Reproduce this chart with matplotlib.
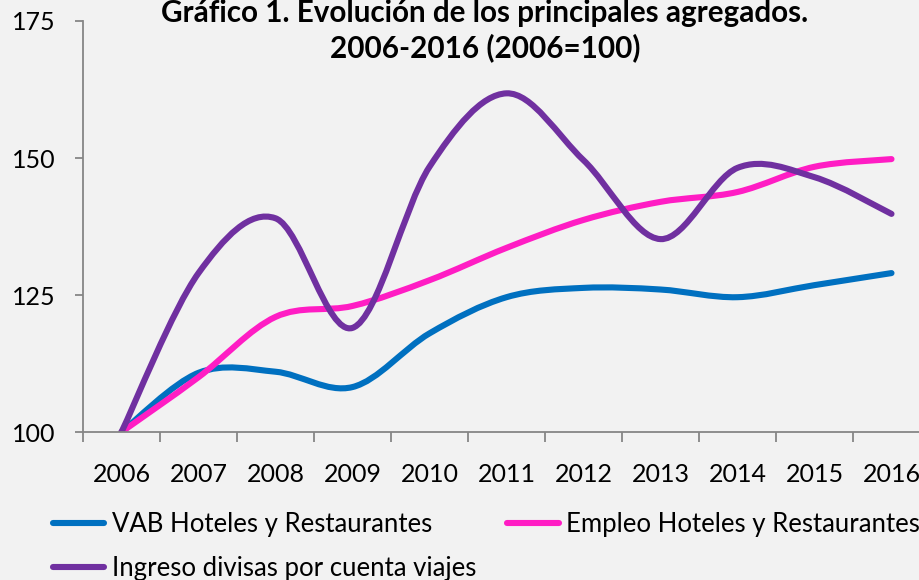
import numpy as np
import matplotlib.pyplot as plt
from matplotlib.path import Path
from matplotlib.patches import PathPatch
from matplotlib.lines import Line2D

years = ['2006', '2007', '2008', '2009', '2010', '2011', '2012', '2013', '2014', '2015', '2016']
vab = [100, 110.8, 111, 108.2, 118, 124.6, 126.3, 126, 124.6, 126.8, 129]
empleo = [100, 110, 121, 123, 127.7, 133.6, 138.7, 142, 143.8, 148.4, 149.8]
divisas = [100, 129, 139, 119, 148.4, 161.8, 149.6, 135.2, 148.2, 146.5, 139.8]

names = ['VAB Hoteles y Restaurantes', 'Empleo Hoteles y Restaurantes',
         'Ingreso divisas por cuenta viajes']
colors = ['#0070C0', '#FF1DC4', '#7030A0']

plt.rcParams['font.family'] = ['Lato', 'DejaVu Sans']


def smooth_path(xs, ys):
    # bezier curve through every point, like excel's "smoothed line"
    pts = np.column_stack([xs, ys]).astype(float)
    n = len(pts)
    verts = [pts[0]]
    codes = [Path.MOVETO]
    for i in range(n - 1):
        p0 = pts[max(i - 1, 0)]
        p1 = pts[i]
        p2 = pts[i + 1]
        p3 = pts[min(i + 2, n - 1)]
        c1 = p1 + (p2 - p0) / 6.0
        c2 = p2 - (p3 - p1) / 6.0
        verts += [c1, c2, p2]
        codes += [Path.CURVE4] * 3
    return Path(verts, codes)


fig = plt.figure(figsize=(9.19, 5.80), dpi=100)
fig.patch.set_facecolor('#F2F2F2')
ax = fig.add_axes([83 / 919, 148 / 580, 847 / 919, 411 / 580])
ax.set_facecolor('#F2F2F2')

x = np.arange(len(years))
for series, c in zip([vab, empleo, divisas], colors):
    patch = PathPatch(smooth_path(x, series), facecolor='none', edgecolor=c,
                      lw=4.4, capstyle='round', joinstyle='round')
    ax.add_patch(patch)

ax.set_xlim(-0.5, len(years) - 0.5)
ax.set_ylim(100, 175)
ax.set_yticks([100, 125, 150, 175])

ax.set_xticks(np.arange(len(years) + 1) - 0.5)
ax.set_xticklabels([])
ax.set_xticks(x, minor=True)
ax.set_xticklabels(years, minor=True)

axis_grey = '#868686'
for side in ['top', 'right']:
    ax.spines[side].set_visible(False)
for side in ['left', 'bottom']:
    ax.spines[side].set_color(axis_grey)
    ax.spines[side].set_linewidth(1.3)

ax.tick_params(axis='y', length=6, width=1.3, color=axis_grey, pad=14, labelsize=18)
ax.tick_params(axis='x', which='major', length=7.5, width=1.3, color=axis_grey)
ax.tick_params(axis='x', which='minor', length=0, pad=22, labelsize=18)

fig.text(485 / 919, 1 - 22 / 580, 'Gráfico 1. Evolución de los principales agregados.',
         ha='center', va='baseline', fontsize=21.3, fontweight='bold')
fig.text(485 / 919, 1 - 57 / 580, '2006-2016 (2006=100)',
         ha='center', va='baseline', fontsize=21.3, fontweight='bold')

handles = [Line2D([], [], color=c, lw=4.4, solid_capstyle='round') for c in colors]
order = [0, 2, 1]
leg = fig.legend([handles[i] for i in order], [names[i] for i in order],
                 loc='upper left', bbox_to_anchor=(53 / 919, 1 - 512 / 580),
                 ncol=2, frameon=False, fontsize=18.5, handlelength=2.0,
                 handletextpad=0.3, columnspacing=1.2, labelspacing=0.75,
                 borderpad=0, borderaxespad=0)

fig.savefig('out.png', dpi=100, facecolor=fig.get_facecolor())
